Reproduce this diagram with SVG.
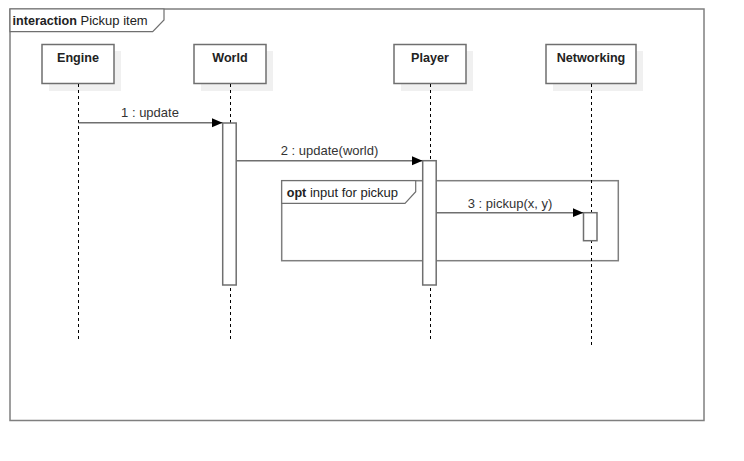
<svg xmlns="http://www.w3.org/2000/svg" width="744" height="461" viewBox="0 0 744 461">
<style>
  .frame { fill: none; stroke: #7f7f7f; stroke-width: 1.5; }
  .lbl { fill: #ffffff; stroke: #6f6f6f; stroke-width: 1.2; }
  .box { fill: #ffffff; stroke: #6f6f6f; stroke-width: 1.5; }
  .shadow { fill: #f0f0f0; stroke: none; }
  .life { stroke: #000000; stroke-width: 1; stroke-dasharray: 3 3; fill: none; }
  .act { fill: #ffffff; stroke: #6f6f6f; stroke-width: 1.5; }
  .msg { stroke: #6f6f6f; stroke-width: 1.5; fill: none; }
  text { font-family: "Liberation Sans", Arial, sans-serif; fill: #222222; }
  .name { font-size: 12.6px; font-weight: bold; text-anchor: middle; }
  .t { font-size: 13px; }
  .b { font-weight: bold; font-size: 12.6px; }
  .ml { font-size: 13px; fill: #333333; }
</style>
<defs>
  <marker id="arr" markerWidth="11" markerHeight="10" refX="10.5" refY="5" orient="auto" markerUnits="userSpaceOnUse">
    <path d="M0,0.5 L10.5,5 L0,9.5 Z" fill="#000000"/>
  </marker>
</defs>
<rect width="744" height="461" fill="#ffffff"/>

<g id="frame-interaction">
  <rect class="frame" x="10" y="9" width="694" height="411.5"/>
  <path class="lbl" d="M10,9 L164,9 L164,20 L152.7,31.7 L10,31.7 Z"/>
  <text x="12.5" y="24.5" class="t"><tspan class="b">interaction</tspan> Pickup item</text>
</g>

<g id="frame-opt">
  <rect class="frame" x="281.7" y="180.7" width="336.6" height="80"/>
  <path class="lbl" d="M281.7,180.7 L415.7,180.7 L415.7,191.7 L405,203.3 L281.7,203.3 Z"/>
  <text x="286.7" y="197" class="t"><tspan class="b">opt</tspan> input for pickup</text>
</g>

<g id="Engine">
  <rect class="shadow" x="49" y="51" width="72" height="40"/>
  <rect class="box" x="42" y="44.5" width="72" height="39"/>
  <text class="name" x="78" y="62">Engine</text>
  <line class="life" x1="78.5" y1="84" x2="78.5" y2="340"/>
</g>

<g id="World">
  <rect class="shadow" x="201" y="51" width="72" height="40"/>
  <rect class="box" x="194" y="44.5" width="72" height="39"/>
  <text class="name" x="230" y="62">World</text>
  <line class="life" x1="230.5" y1="84" x2="230.5" y2="340"/>
  <rect class="act" x="222.7" y="123" width="13.5" height="162"/>
</g>

<g id="Player">
  <rect class="shadow" x="401" y="51" width="72" height="40"/>
  <rect class="box" x="394" y="44.5" width="72" height="39"/>
  <text class="name" x="430" y="62">Player</text>
  <line class="life" x1="430.5" y1="84" x2="430.5" y2="340"/>
  <rect class="act" x="422.7" y="160.7" width="13.5" height="124.3"/>
</g>

<g id="Networking">
  <rect class="shadow" x="553" y="51" width="90" height="40"/>
  <rect class="box" x="546" y="44.5" width="90" height="39"/>
  <text class="name" x="591" y="62">Networking</text>
  <line class="life" x1="591.5" y1="84" x2="591.5" y2="346"/>
  <rect class="act" x="583.5" y="212.7" width="13.5" height="28"/>
</g>

<g id="connectors">
  <line class="msg" x1="78.5" y1="122.7" x2="222.5" y2="122.7" marker-end="url(#arr)"/>
  <text class="ml" x="150" y="117" text-anchor="middle">1 : update</text>
  <line class="msg" x1="236.2" y1="160.7" x2="422.5" y2="160.7" marker-end="url(#arr)"/>
  <text class="ml" x="329.5" y="155" text-anchor="middle">2 : update(world)</text>
  <line class="msg" x1="436.2" y1="212.7" x2="583.3" y2="212.7" marker-end="url(#arr)"/>
  <text class="ml" x="510" y="207.5" text-anchor="middle">3 : pickup(x, y)</text>
</g>
</svg>
